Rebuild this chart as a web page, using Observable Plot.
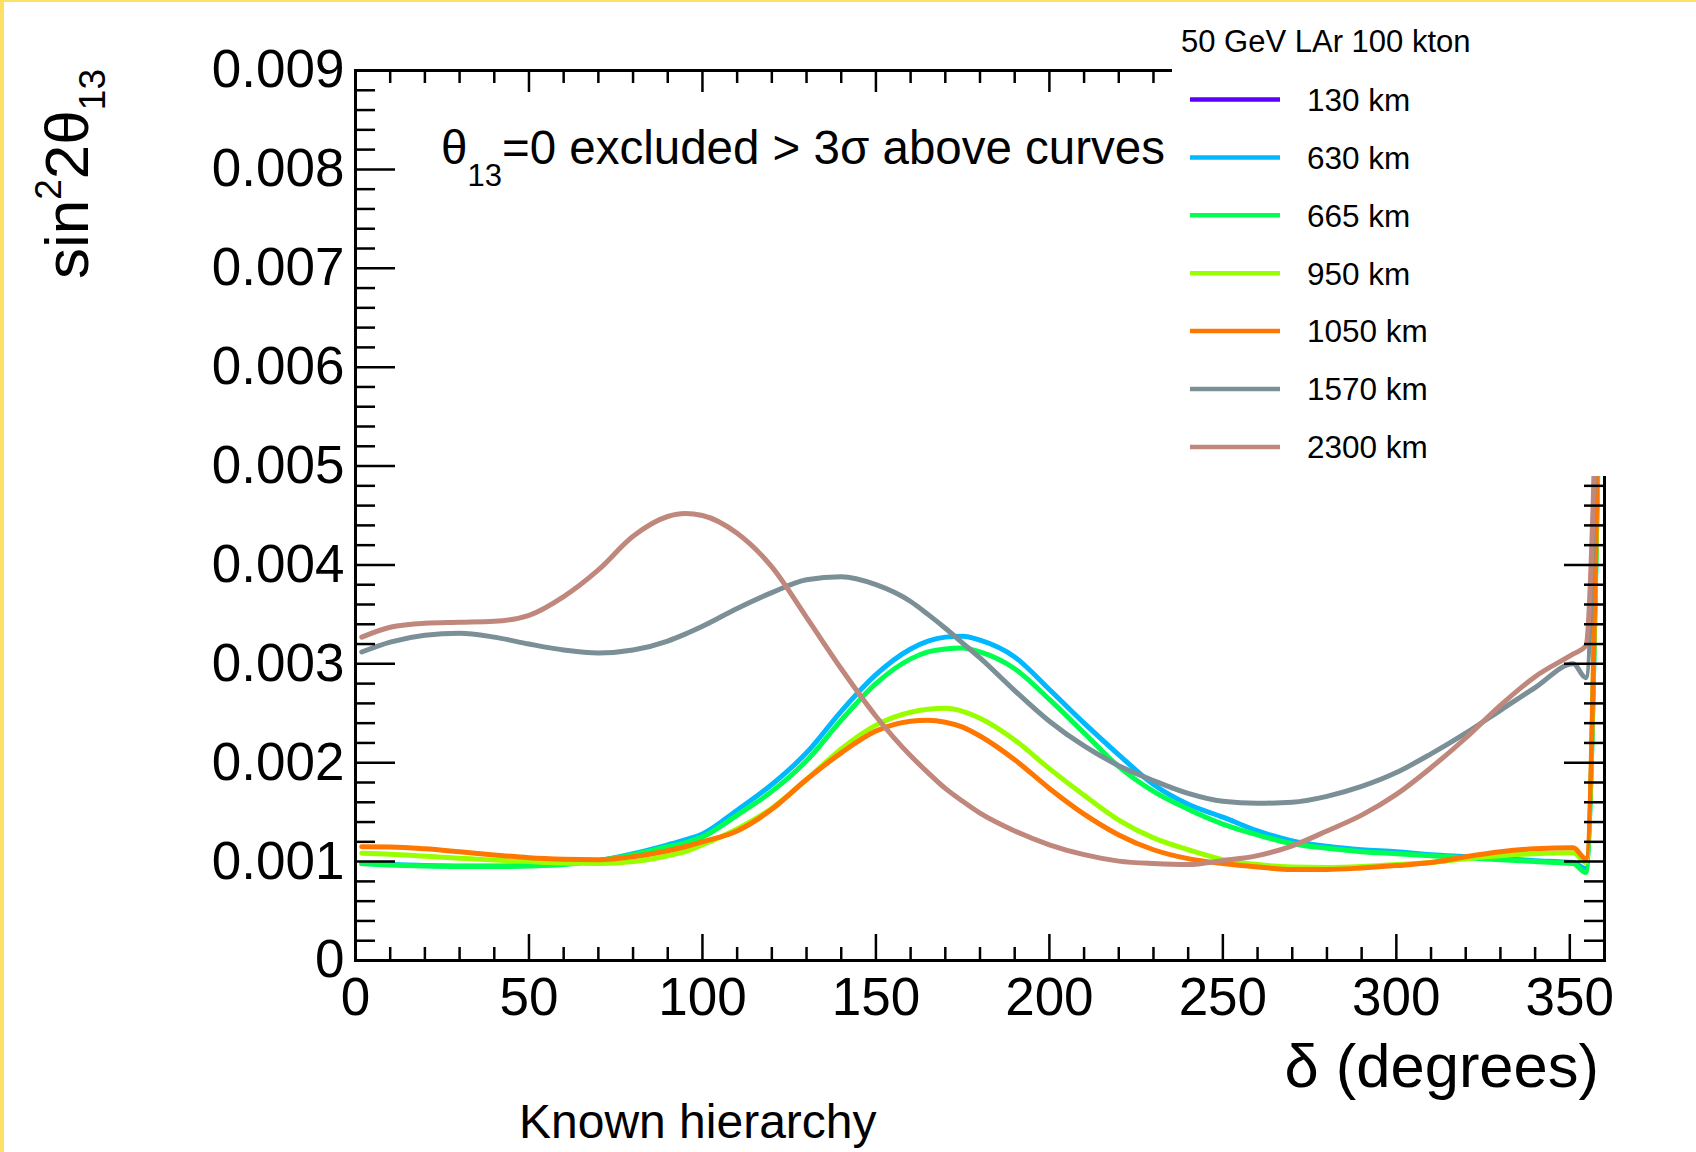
<!DOCTYPE html>
<html><head><meta charset="utf-8">
<script src="https://cdn.jsdelivr.net/npm/d3@7"></script>
<script src="https://cdn.jsdelivr.net/npm/@observablehq/plot@0.6"></script>
<style>html,body{margin:0;padding:0;background:#fff;} svg{display:block;}</style>
</head><body><div id="chart"></div>
<script>
// delta (degrees) sample positions
const delta = [1.8, 10, 20, 30, 40, 50, 60, 70, 80, 90, 95, 100, 110, 120, 130, 140, 150, 160, 165, 170, 175, 180,
  190, 200, 210, 220, 230, 240, 250, 260, 270, 280, 290, 300, 310, 320, 330, 340, 351, 354.6, 358.2];

// sin^2 2theta13 limits, in units of 1e-3
const v130 = []; // not visible in the frame
const v630 = [0.98, 0.97, 0.96, 0.955, 0.955, 0.96, 0.975, 1.01, 1.08, 1.17, 1.22, 1.28, 1.52, 1.78, 2.10, 2.52, 2.89, 3.15, 3.23, 3.27, 3.28, 3.24,
  3.07, 2.74, 2.40, 2.08, 1.78, 1.58, 1.45, 1.31, 1.21, 1.155, 1.12, 1.10, 1.07, 1.05, 1.03, 1.01, 0.99, 0.93, 5.2];
const v665 = [0.98, 0.965, 0.955, 0.95, 0.95, 0.955, 0.97, 1.01, 1.07, 1.15, 1.19, 1.25, 1.47, 1.71, 2.02, 2.43, 2.80, 3.05, 3.12, 3.15, 3.16, 3.12,
  2.95, 2.64, 2.30, 1.96, 1.71, 1.53, 1.38, 1.27, 1.18, 1.135, 1.10, 1.08, 1.06, 1.04, 1.02, 1.00, 0.98, 0.89, 5.2];
const v950 = [1.085, 1.075, 1.055, 1.035, 1.015, 1.0, 0.985, 0.98, 1.0, 1.06, 1.10, 1.17, 1.33, 1.54, 1.83, 2.14, 2.38, 2.51, 2.54, 2.55, 2.52, 2.45,
  2.23, 1.94, 1.67, 1.42, 1.24, 1.12, 1.02, 0.97, 0.945, 0.94, 0.95, 0.97, 0.99, 1.03, 1.06, 1.08, 1.09, 0.99, 5.3];
const v1050 = [1.15, 1.148, 1.13, 1.10, 1.068, 1.04, 1.025, 1.02, 1.05, 1.11, 1.15, 1.20, 1.31, 1.53, 1.83, 2.10, 2.32, 2.42, 2.43, 2.41, 2.36, 2.27,
  2.03, 1.74, 1.48, 1.27, 1.12, 1.03, 0.98, 0.945, 0.92, 0.92, 0.935, 0.96, 0.99, 1.05, 1.10, 1.13, 1.14, 1.03, 5.44];
const v1570 = [3.12, 3.22, 3.29, 3.31, 3.27, 3.20, 3.14, 3.11, 3.14, 3.23, 3.30, 3.38, 3.56, 3.72, 3.85, 3.88, 3.80, 3.63, 3.50, 3.36, 3.21, 3.06,
  2.73, 2.42, 2.17, 1.97, 1.82, 1.69, 1.61, 1.59, 1.60, 1.66, 1.76, 1.90, 2.09, 2.30, 2.53, 2.76, 3.00, 2.86, 6.6];
const v2300 = [3.27, 3.37, 3.41, 3.42, 3.43, 3.49, 3.68, 3.95, 4.29, 4.49, 4.52, 4.50, 4.32, 3.98, 3.47, 2.95, 2.47, 2.07, 1.90, 1.74, 1.61, 1.49,
  1.31, 1.17, 1.07, 1.005, 0.98, 0.97, 1.01, 1.06, 1.16, 1.31, 1.47, 1.68, 1.95, 2.25, 2.58, 2.87, 3.10, 3.18, 6.4];

const seriesNames = ["130 km", "630 km", "665 km", "950 km", "1050 km", "1570 km", "2300 km"];
const seriesValues = [v130, v630, v665, v950, v1050, v1570, v2300];
const seriesColors = ["#5a00ff", "#00b8ff", "#00ff50", "#99ff00", "#ff7700", "#7b8f96", "#c0877c"];

const yMajor = [0, 1, 2, 3, 4, 5, 6, 7, 8, 9];
const xMajor = [0, 50, 100, 150, 200, 250, 300, 350];
const yMinor = d3.range(0, 9.0001, 0.2).filter(v => Math.abs(v - Math.round(v)) > 1e-6);
const xMinor = d3.range(0, 360.001, 10).filter(v => v % 50 !== 0);

const legendTitle = "50 GeV LAr 100 kton";
const xTitle = "δ (degrees)";
const note = "Known hierarchy";

const rows = [];
seriesNames.forEach((name, i) => {
  seriesValues[i].forEach((v, j) => rows.push({name, delta: delta[j], v}));
});

const W = 1696, H = 1152;
const mL = 355, mR = 92, mT = 70, mB = 192;
const iw = W - mL - mR, ih = H - mT - mB;
const font = "'Liberation Sans', Arial, Helvetica, sans-serif";

const plot = Plot.plot({
  width: W, height: H,
  marginLeft: mL, marginRight: mR, marginTop: mT, marginBottom: mB,
  style: {fontFamily: font, background: "white", color: "black"},
  x: {domain: [0, 360]},
  y: {domain: [0, 9]},
  color: {domain: seriesNames, range: seriesColors},
  marks: [
    Plot.axisY({ticks: yMajor, tickSize: 0, tickPadding: 11, fontSize: 53, label: null,
      tickFormat: d => d === 0 ? "0" : (d / 1000).toFixed(3)}),
    Plot.axisX({ticks: xMajor, tickSize: 0, tickPadding: 17, fontSize: 53, label: null,
      tickFormat: d => String(d)}),
    Plot.line(rows, {x: "delta", y: "v", z: "name", stroke: "name", strokeWidth: 5,
      curve: "monotone-x", clip: true}),
    // left / right ticks
    Plot.tickY(yMajor, {y: d => d, insetRight: iw - 40, stroke: "black", strokeWidth: 2.5}),
    Plot.tickY(yMinor, {y: d => d, insetRight: iw - 20, stroke: "black", strokeWidth: 2.5}),
    Plot.tickY(yMajor, {y: d => d, insetLeft: iw - 40, stroke: "black", strokeWidth: 2.5}),
    Plot.tickY(yMinor, {y: d => d, insetLeft: iw - 20, stroke: "black", strokeWidth: 2.5}),
    // bottom / top ticks
    Plot.tickX(xMajor, {x: d => d, insetTop: ih - 26, stroke: "black", strokeWidth: 2.5}),
    Plot.tickX(xMinor, {x: d => d, insetTop: ih - 13, stroke: "black", strokeWidth: 2.5}),
    Plot.tickX(xMajor, {x: d => d, insetBottom: ih - 22, stroke: "black", strokeWidth: 2.5}),
    Plot.tickX(xMinor, {x: d => d, insetBottom: ih - 13, stroke: "black", strokeWidth: 2.5}),
    Plot.frame({stroke: "black", strokeWidth: 3})
  ]
});
document.getElementById("chart").appendChild(plot);

const svg = d3.select(plot);
const addText = (x, y, size, anchor = "start") => svg.append("text").attr("x", x).attr("y", y)
  .attr("font-size", size).attr("font-family", font).attr("text-anchor", anchor).attr("fill", "black");

// Legend box (opaque, on top of the frame)
svg.append("rect").attr("x", 1172).attr("y", 0).attr("width", W - 1172).attr("height", 476).attr("fill", "white");
addText(1181, 52, 31).text(legendTitle);
seriesNames.forEach((name, i) => {
  const y = 99.5 + 57.9 * i;
  svg.append("line").attr("x1", 1190).attr("x2", 1280).attr("y1", y).attr("y2", y)
    .attr("stroke", seriesColors[i]).attr("stroke-width", 4.5);
  addText(1307, y, 31.5).attr("dy", "0.36em").text(name);
});

// annotation
const ann = addText(441, 164, 47.5);
ann.append("tspan").text("θ");
ann.append("tspan").attr("font-size", 31).attr("dy", 22).text("13");
ann.append("tspan").attr("dy", -22).text("=0 excluded > 3σ above curves");

// axis titles
addText(1599, 1087, 61.5, "end").text(xTitle);
const yt = svg.append("text").attr("transform", "translate(88,279) rotate(-90)").attr("font-size", 62)
  .attr("font-family", font).attr("text-anchor", "start").attr("fill", "black");
yt.append("tspan").text("sin");
yt.append("tspan").attr("font-size", 37).attr("dy", -27).text("2");
yt.append("tspan").attr("dy", 27).text("2θ");
yt.append("tspan").attr("font-size", 37).attr("dy", 17).text("13");

addText(519, 1138, 48).text(note);

// page border
svg.append("rect").attr("x", 0).attr("y", 0).attr("width", 4).attr("height", H).attr("fill", "#ffe066");
svg.append("rect").attr("x", 0).attr("y", 0).attr("width", W).attr("height", 2).attr("fill", "#ffe066");
</script>
</body></html>
